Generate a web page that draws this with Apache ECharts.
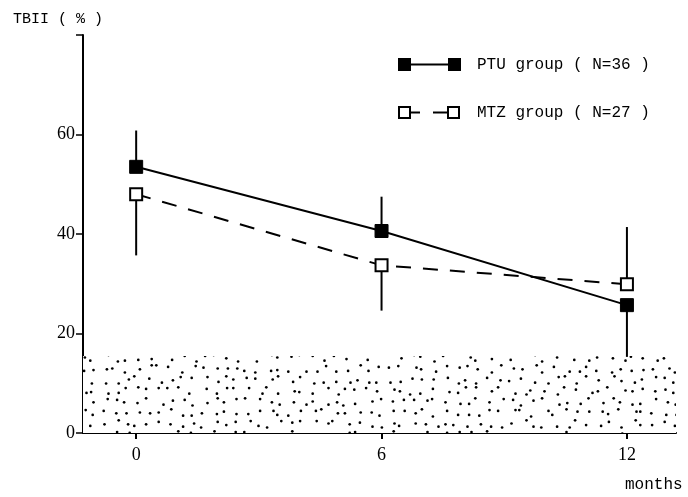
<!DOCTYPE html>
<html><head><meta charset="utf-8">
<script src="https://cdn.jsdelivr.net/npm/echarts@6/dist/echarts.min.js"></script>
<style>html,body{margin:0;padding:0;background:#fff}#c{width:688px;height:497px}</style>
</head><body><div id="c"></div>
<script>
// ---- data ----
const months = [0, 6, 12];
const ptuMean = [53.5, 40.6, 25.7];
const ptuErrLow = [53.5, 40.6, 15.3];
const ptuErrHigh = [60.8, 47.5, 25.7];
const mtzMean = [48.0, 33.7, 29.9];
const mtzErrLow = [35.7, 24.6, 29.9];
const mtzErrHigh = [48.0, 33.7, 41.4];
const normalUpper = 15.5;
const yTickLabels = [0, 20, 40, 60];
const yTicks = [0, 20, 40, 60, 80];
const xTickLabels = [0, 6, 12];
const legendNames = ['PTU group ( N=36 )', 'MTZ group ( N=27 )'];

// ---- stipple texture (decorative; fixed offset table, deterministic index mixing) ----
const dotOffsets = [
 [2,3],[8,6],[4,9],[9,1],[1,7],[6,4],[3,1],[10,8],[5,6],[7,2],
 [6,8],[1,2],[9,5],[3,6],[7,10],[2,1],[9,7],[4,3],[1,9],[8,5],
 [9,1],[4,5],[2,10],[6,2],[3,4],[10,9],[5,6],[1,1],[7,8],[3,3],
 [4,6],[10,9],[7,2],[1,8],[9,3],[5,7],[2,2],[8,10],[10,4],[5,9],
 [1,10],[6,1],[3,6],[8,9],[5,1],[2,6],[7,3],[4,8],[9,2],[1,5]
];
const CELL = 11;
const tile = document.createElement('canvas');
tile.width = 704; tile.height = 506;
const tctx = tile.getContext('2d');
tctx.fillStyle = '#fff'; tctx.fillRect(0,0,tile.width,tile.height);
tctx.fillStyle = '#000';
for (let r = 0; r < tile.height / CELL; r++) {
  for (let c = 0; c < tile.width / CELL; c++) {
    const k = (c*7 + r*13 + (c*r) % 11) % dotOffsets.length;
    let ox = dotOffsets[k][0], oy = dotOffsets[k][1];
    if ((c + 2*r) % 3 === 0) ox = 11 - ox;
    if ((2*c + r) % 5 === 0) oy = 11 - oy;
    tctx.beginPath();
    tctx.arc(c*CELL + 1.5 + ox*0.8, r*CELL + 1.5 + oy*0.8, 1.35, 0, Math.PI*2);
    tctx.fill();
  }
}

const FONT_SERIF = 'Liberation Serif';
const FONT_MONO = 'Liberation Mono';

function pairs(xs, ys){ return xs.map((x,i)=>[x, ys[i]]); }
function errData(xs, lo, hi){ return xs.map((x,i)=>[x, lo[i], hi[i]]); }
function errRender(params, api){
  const x = api.value(0), lo = api.value(1), hi = api.value(2);
  const p1 = api.coord([x, lo]), p2 = api.coord([x, hi]);
  return {type:'line', shape:{x1:p1[0],y1:p1[1],x2:p2[0],y2:p2[1]},
          style:{stroke:'#000', lineWidth:2}};
}

const chart = echarts.init(document.getElementById('c'), null, {renderer:'canvas'});
chart.setOption({
  animation: false,
  backgroundColor: '#fff',
  grid: {left: 83, right: 12, top: 35, bottom: 64},
  title: {text: 'TBII ( % )', left: 8, top: 7,
    textStyle: {fontFamily: FONT_MONO, fontSize: 15, fontWeight: 'normal', color: '#000'}},
  xAxis: {
    type: 'value', min: -1.3, max: 13.2,
    splitLine: {show: false},
    axisLine: {onZero: false, lineStyle: {color: '#000', width: 2}},
    axisTick: {customValues: xTickLabels, length: 6, lineStyle: {color:'#000', width: 2}},
    axisLabel: {customValues: xTickLabels, margin: 13, color: '#000',
      fontFamily: FONT_SERIF, fontSize: 18}
  },
  yAxis: {
    type: 'value', min: 0, max: 80, interval: 20,
    splitLine: {show: false},
    axisLine: {show: true, onZero: false, lineStyle: {color: '#000', width: 2}},
    axisTick: {show: true, customValues: yTicks, length: 7, lineStyle: {color:'#000', width: 1.5}},
    axisLabel: {customValues: yTickLabels, margin: 8, color: '#000',
      fontFamily: FONT_SERIF, fontSize: 18}
  },
  graphic: [
    {type:'text', left: 625, top: 477, style:{text:'months', fontFamily: FONT_MONO, fontSize: 16, fill:'#000'}},
    // legend row 1
    {type:'line', shape:{x1:411, y1:64.5, x2:449, y2:64.5}, style:{stroke:'#000', lineWidth:2}},
    {type:'rect', shape:{x:398, y:58, width:13, height:13}, style:{fill:'#000'}},
    {type:'rect', shape:{x:448, y:58, width:13, height:13}, style:{fill:'#000'}},
    {type:'text', x: 477, y: 65, style:{text: legendNames[0], fontFamily: FONT_MONO, fontSize: 16,
      fill:'#000', verticalAlign:'middle'}},
    // legend row 2
    {type:'line', shape:{x1:410, y1:112.5, x2:420, y2:112.5}, style:{stroke:'#000', lineWidth:2}},
    {type:'line', shape:{x1:433, y1:112.5, x2:447, y2:112.5}, style:{stroke:'#000', lineWidth:2}},
    {type:'rect', shape:{x:399, y:107, width:11, height:11}, style:{fill:'#fff', stroke:'#000', lineWidth:2}},
    {type:'rect', shape:{x:448, y:107, width:11, height:11}, style:{fill:'#fff', stroke:'#000', lineWidth:2}},
    {type:'text', x: 477, y: 113, style:{text: legendNames[1], fontFamily: FONT_MONO, fontSize: 16,
      fill:'#000', verticalAlign:'middle'}}
  ],
  series: [
    {
      type: 'line', data: [], z: 0, silent: true,
      markArea: {silent: true, itemStyle: {color: {image: tile, repeat: 'repeat'}},
        data: [[{xAxis: 'min', yAxis: 0}, {xAxis: 'max', yAxis: normalUpper}]]}
    },
    {type:'custom', name:'PTU err', renderItem: errRender, data: errData(months, ptuErrLow, ptuErrHigh), z: 2},
    {type:'custom', name:'MTZ err', renderItem: errRender, data: errData(months, mtzErrLow, mtzErrHigh), z: 2},
    {
      type: 'line', name: legendNames[0], data: pairs(months, ptuMean), z: 4,
      symbol: 'rect', symbolSize: 13,
      lineStyle: {color: '#000', width: 2},
      itemStyle: {color: '#000', borderColor: '#000'}
    },
    {
      type: 'line', name: legendNames[1], data: pairs(months, mtzMean), z: 3,
      symbol: 'rect', symbolSize: 12,
      lineStyle: {color: '#000', width: 2, type: [15, 12]},
      itemStyle: {color: '#fff', borderColor: '#000', borderWidth: 2}
    }
  ]
});
</script></body></html>
